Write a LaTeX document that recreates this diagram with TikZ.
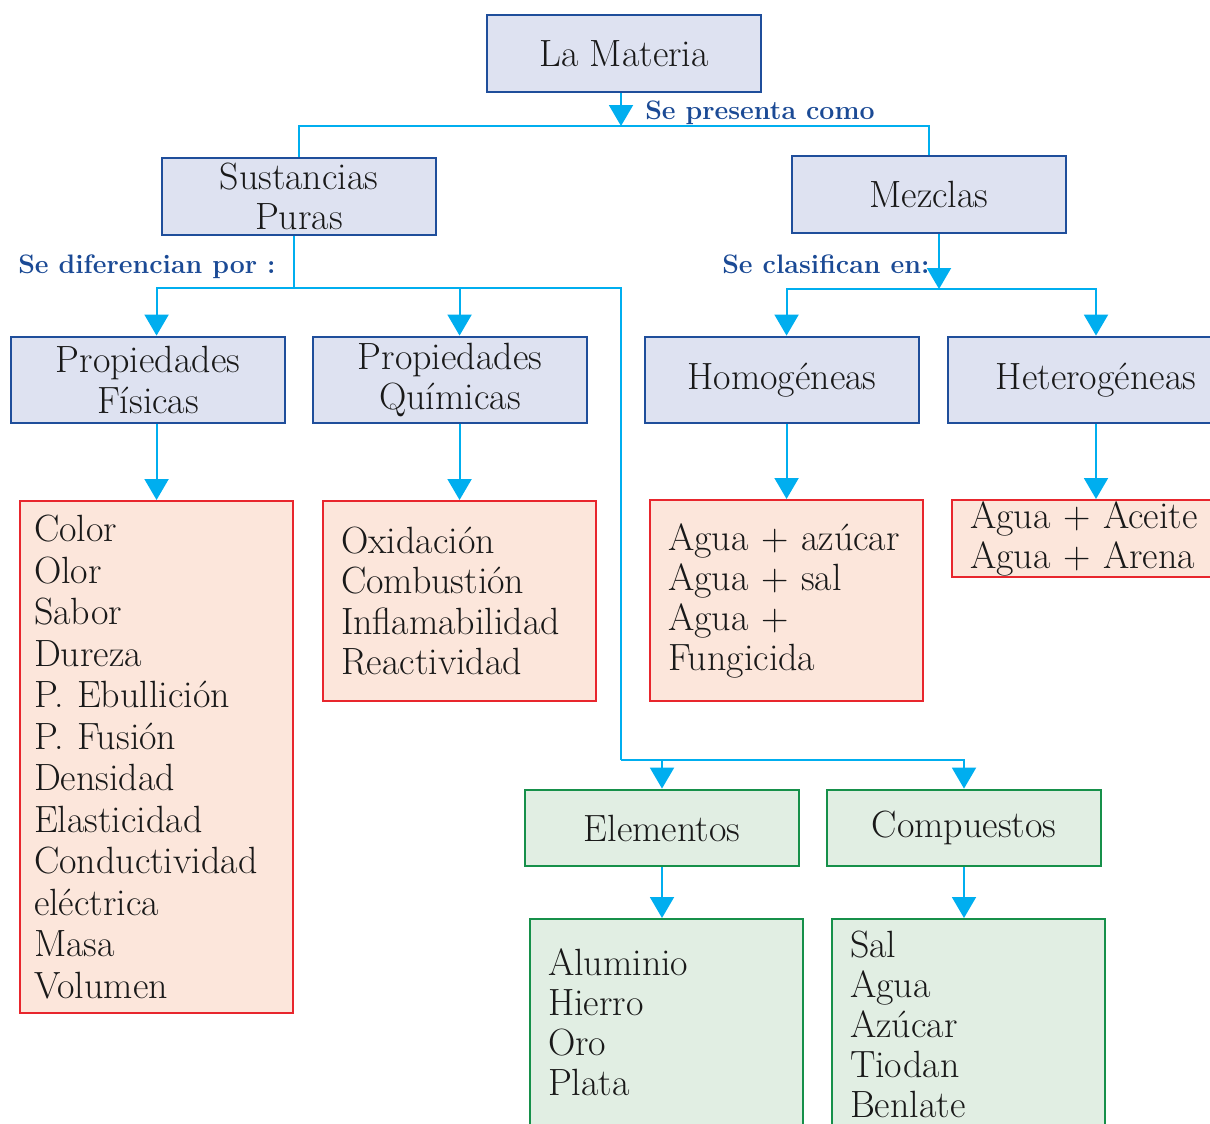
\documentclass[tikz,border=0pt]{standalone}
\usepackage{fontspec}
\usetikzlibrary{arrows.meta,positioning}

\definecolor{fondoazul}{HTML}{DEE2F1}
\definecolor{bordeazul}{HTML}{1F4E9B}
\definecolor{celeste}{HTML}{00AEEF}
\definecolor{fondorosa}{HTML}{FCE6DB}
\definecolor{borderojo}{HTML}{E8262D}
\definecolor{fondoverde}{HTML}{E1EEE3}
\definecolor{bordeverde}{HTML}{16904A}
\definecolor{azultexto}{HTML}{1B4A95}

\tikzset{
	caja/.style={draw=bordeazul, fill=fondoazul, line width=2pt, minimum width=6.85cm, minimum height=1.925cm, align=center, text=black!90, inner sep=0pt, font=\fontsize{27}{28.5}\selectfont\addfontfeature{FakeBold=0.3}},
	cajav/.style={caja, draw=bordeverde, fill=fondoverde, minimum height=1.9cm},
	lista/.style={draw=borderojo, fill=fondorosa, line width=1.5pt, anchor=north west, align=left, text=black!90, inner xsep=0.45cm, inner ysep=0pt, text width=5.925cm, font=\fontsize{27}{28.5}\selectfont\addfontfeature{FakeBold=0.3}},
	listav/.style={lista, draw=bordeverde, fill=fondoverde},
	enlace/.style={draw=celeste, line width=1.4pt},
	flecha/.style={enlace, -{Triangle[width=0.6cm, length=0.525cm]}},
	rotulo/.style={text=azultexto, anchor=base west, inner sep=0pt, font=\fontsize{19}{21}\selectfont\bfseries\addfontfeature{LetterSpace=4}}
}

\begin{document}
\begin{tikzpicture}
				\clip (0,0) rectangle (30.25,-28.075);
				
				\node[caja] (mat) at (15.6,-1.3375) {La Materia};
				\node[caja] (sus) at (7.475,-4.9125) {Sustancias\\Puras};
				\node[caja] (mez) at (23.225,-4.8625) {Mezclas};
				
				\node[caja, minimum height=2.15cm] (fis) at (3.7,-9.5) {Propiedades\\Físicas};
				\node[caja, minimum height=2.15cm] (qui) at (11.25,-9.5) {Propiedades\\Químicas};
				\node[caja, minimum height=2.15cm] (hom) at (19.55,-9.5) {Homogéneas};
				\node[caja, minimum height=2.15cm, minimum width=7.4cm] (het) at (27.4,-9.5) {Heterogéneas};
				
				\node[cajav] (ele) at (16.55,-20.7) {Elementos};
				\node[cajav] (com) at (24.1,-20.7) {Compuestos};
				
				% listas
				\node[lista, inner xsep=0.35cm, text width=6.125cm, minimum height=12.8cm, font=\fontsize{27}{29.5}\selectfont\addfontfeature{FakeBold=0.3}] (lfis) at (0.475,-12.5) {Color\\Olor\\Sabor\\Dureza\\P. Ebullición\\P. Fusión\\Densidad\\Elasticidad\\Conductividad\\eléctrica\\Masa\\Volumen};
				\node[lista, minimum height=5cm] (lqui) at (8.05,-12.5) {Oxidación\\Combustión\\Inflamabilidad\\Reactividad};
				\node[lista, minimum height=5.025cm] (lhom) at (16.225,-12.475) {Agua + azúcar\\Agua + sal\\Agua +\\Fungicida};
				\node[lista, minimum height=1.925cm, text width=6.5cm] (lhet) at (23.775,-12.475) {Agua + Aceite\\Agua + Arena};
				\node[listav, minimum height=5.175cm] (lele) at (13.225,-22.95) {Aluminio\\Hierro\\Oro\\Plata};
				\node[listav, minimum height=5.275cm] (lcom) at (20.775,-22.95) {Sal\\Agua\\Azúcar\\Tiodan\\Benlate};
				
				% rotulos
				\node[rotulo] (tpre) at (16.125,-2.975) {Se presenta como};
				\node[rotulo] (tdif) at (0.45,-6.825) {Se diferencian por :};
				\node[rotulo] (tcla) at (18.05,-6.825) {Se clasifican en:};
				
				\coordinate (c1) at (15.525,-3.15);
				\coordinate (c2) at (7.35,-7.2);
				\coordinate (c3) at (15.525,-19);
				\coordinate (c4) at (23.475,-7.225);
				
				\draw[flecha] (mat.south -| c1) -- (c1);
				\draw[enlace] (sus.north) |- (c1) -| (mez.north);
				
				\draw[enlace] (c2 |- sus.south) -- (c2);
				\draw[flecha] (c2) -| (lfis.north |- fis.north);
				\draw[flecha] (c2) -| (lqui.north |- qui.north);
				\draw[enlace] (c2) -| (c3);
				\draw[flecha] (c3) -| (ele.north);
				\draw[flecha] (c3) -| (com.north);
				
				\draw[flecha] (mez.south -| c4) -- (c4);
				\draw[flecha] (c4) -| (lhom.north |- hom.north);
				\draw[flecha] (c4) -| (het.north);
				
				\draw[flecha] (lfis.north |- fis.south) -- (lfis.north);
				\draw[flecha] (lqui.north |- qui.south) -- (lqui.north);
				\draw[flecha] (lhom.north |- hom.south) -- (lhom.north);
				\draw[flecha] (het.south) -- (het.south |- lhet.north);
				\draw[flecha] (ele.south) -- (ele.south |- lele.north);
				\draw[flecha] (com.south) -- (com.south |- lcom.north);
			\end{tikzpicture}
\end{document}
